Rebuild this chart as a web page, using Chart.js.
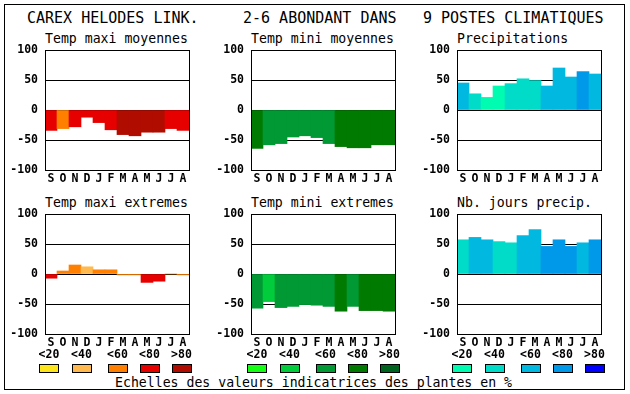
<!DOCTYPE html>
<html>
<head>
<meta charset="utf-8">
<script src="https://cdn.jsdelivr.net/npm/chart.js@4.4.1/dist/chart.umd.min.js"></script>
<style>
  body { margin: 0; background: #fff; }
  #page { position: relative; width: 630px; height: 394px; overflow: hidden; font-family: "DejaVu Sans Mono", monospace; color: #000; }
  #frame { position: absolute; left: 4px; top: 4px; width: 621px; height: 386px; border: 1px solid #000; box-sizing: border-box; }
  canvas { position: absolute; }
  .t { position: absolute; white-space: pre; line-height: 16px; }
  .title { font-size: 15px; }
  .sub { font-size: 13.2px; }
  .lab { position: absolute; font-weight: bold; font-size: 11.5px; line-height: 12px; width: 30px; text-align: center; }
  .sw { position: absolute; width: 20px; height: 9px; border: 1px solid #000; box-sizing: border-box; }
</style>
</head>
<body>
<div id="page">
  <div id="frame"></div>
  <div class="t title" style="left:27px;top:10px">CAREX HELODES LINK.</div>
  <div class="t title" style="left:243px;top:10px">2-6 ABONDANT DANS</div>
  <div class="t title" style="left:423px;top:10px">9 POSTES CLIMATIQUES</div>
  <div class="t sub" style="left:45px;top:31px">Temp maxi moyennes</div>
  <div class="t sub" style="left:251px;top:31px">Temp mini moyennes</div>
  <div class="t sub" style="left:457px;top:31px">Precipitations</div>
  <div class="t sub" style="left:45px;top:195px">Temp maxi extremes</div>
  <div class="t sub" style="left:251px;top:195px">Temp mini extremes</div>
  <div class="t sub" style="left:457px;top:195px">Nb. jours precip.</div>
  <div class="t sub" style="left:115px;top:375px">Echelles des valeurs indicatrices des plantes en %</div>
  <canvas id="c1" width="192" height="156" style="left:5px;top:30px"></canvas>
  <canvas id="c2" width="192" height="156" style="left:211px;top:30px"></canvas>
  <canvas id="c3" width="192" height="156" style="left:417px;top:30px"></canvas>
  <canvas id="c4" width="192" height="156" style="left:5px;top:194px"></canvas>
  <canvas id="c5" width="192" height="156" style="left:211px;top:194px"></canvas>
  <canvas id="c6" width="192" height="156" style="left:417px;top:194px"></canvas>
  <div id="legend"></div>
</div>
<script>
// mois de septembre a aout
const months = ['S', 'O', 'N', 'D', 'J', 'F', 'M', 'A', 'M', 'J', 'J', 'A'];
const yTicks = [-100, -50, 0, 50, 100];
const scaleLabels = ['<20', '<40', '<60', '<80', '>80'];

// palettes des classes (0..4)
const warmColors = ['#fce51b', '#ffb94f', '#ff8000', '#e60000', '#b00c00'];
const greenColors = ['#14ff14', '#00cc3c', '#009933', '#007a00', '#00641e'];
const blueColors = ['#00fcb0', '#00dcc8', '#00b8e0', '#0098e8', '#0000ff'];

// valeurs et classes par graphique
const maxiMoyValues = [-34, -31, -28, -12, -21, -33, -41, -43, -37, -37, -31, -34];
const maxiMoyClasses = [3, 2, 3, 3, 3, 3, 4, 4, 4, 4, 3, 3];
const miniMoyValues = [-64, -58, -56, -45, -43, -46, -56, -61, -63, -63, -58, -58];
const miniMoyClasses = [3, 2, 2, 2, 2, 2, 2, 3, 3, 3, 3, 3];
const precipValues = [45, 27, 21, 40, 44, 52, 49, 40, 70, 55, 64, 60];
const precipClasses = [2, 1, 0, 0, 1, 1, 1, 2, 2, 2, 3, 2];
const maxiExtValues = [-7, 5, 15, 12, 7, 7, -1.5, -1.5, -14, -12, 0, -1.5];
const maxiExtClasses = [3, 2, 2, 1, 2, 2, 2, 2, 3, 3, 2, 2];
const miniExtValues = [-57, -46, -56, -54, -51, -52, -54, -62, -54, -61, -61, -62];
const miniExtClasses = [2, 1, 2, 2, 2, 2, 2, 3, 2, 3, 3, 3];
const joursValues = [57, 61, 57, 54, 52, 64, 74, 46, 57, 46, 52, 57];
const joursClasses = [1, 2, 2, 1, 1, 2, 2, 3, 3, 3, 2, 3];

const tickFont = { family: 'DejaVu Sans Mono', size: 11.5, weight: 'bold' };

// cadre noir autour de la zone du graphique
const framePlugin = {
    id: 'frame',
    afterDraw(chart) {
        const a = chart.chartArea;
        const ctx = chart.ctx;
        ctx.save();
        ctx.strokeStyle = '#000';
        ctx.lineWidth = 1;
        ctx.strokeRect(a.left + 0.5, a.top + 0.5, a.right - a.left, a.bottom - a.top);
        ctx.restore();
    }
};

function makePanel(id, values, classes, palette) {
    const ctx = document.getElementById(id).getContext('2d');
    return new Chart(ctx, {
        type: 'bar',
        data: {
            labels: months,
            datasets: [{
                data: values,
                backgroundColor: classes.map(c => palette[c]),
                borderWidth: 0,
                barPercentage: 1,
                categoryPercentage: 1
            }]
        },
        options: {
            responsive: false,
            animation: false,
            devicePixelRatio: 1,
            layout: { padding: { top: 20, right: 8, left: 0, bottom: 0 } },
            plugins: { legend: { display: false }, tooltip: { enabled: false } },
            scales: {
                x: {
                    grid: { display: false, drawTicks: false },
                    border: { display: false },
                    ticks: { color: '#000', font: tickFont, padding: 2, maxRotation: 0, autoSkip: false },
                    afterFit: s => { s.height = 16; }
                },
                y: {
                    min: -100,
                    max: 100,
                    afterBuildTicks: s => { s.ticks = yTicks.map(v => ({ value: v })); },
                    ticks: { color: '#000', font: tickFont, padding: 7 },
                    grid: { color: '#000', lineWidth: 1, drawTicks: false },
                    border: { display: false },
                    z: 1,
                    afterFit: s => { s.width = 40; }
                }
            }
        },
        plugins: [framePlugin]
    });
}

makePanel('c1', maxiMoyValues, maxiMoyClasses, warmColors);
makePanel('c2', miniMoyValues, miniMoyClasses, greenColors);
makePanel('c3', precipValues, precipClasses, blueColors);
makePanel('c4', maxiExtValues, maxiExtClasses, warmColors);
makePanel('c5', miniExtValues, miniExtClasses, greenColors);
makePanel('c6', joursValues, joursClasses, blueColors);

// legende des echelles
const swatchCenters = [49, 81.5, 117.5, 149.5, 181.5];
const groupOffsets = [0, 208, 413];
const groupPalettes = [warmColors, greenColors, blueColors];
const legend = document.getElementById('legend');
groupOffsets.forEach((off, g) => {
    scaleLabels.forEach((lab, i) => {
        const cx = swatchCenters[i] + off;
        legend.innerHTML += `<div class="lab" style="left:${cx - 15}px;top:348px">${lab}</div>`;
        legend.innerHTML += `<div class="sw" style="left:${Math.round(cx - 10)}px;top:364px;background:${groupPalettes[g][i]}"></div>`;
    });
});
</script>
</body>
</html>
